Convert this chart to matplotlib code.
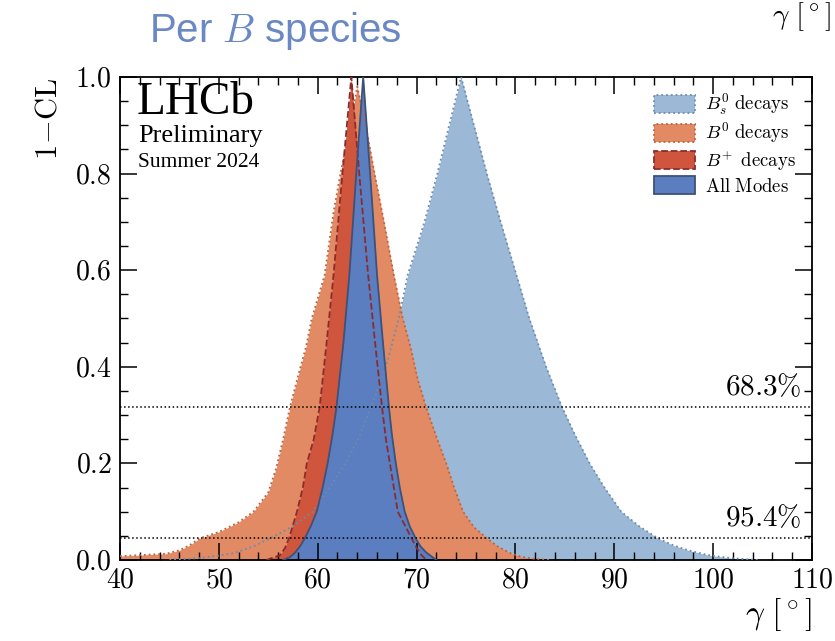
import numpy as np
import matplotlib as mpl
mpl.use('Agg')
import matplotlib.pyplot as plt
from matplotlib.patches import Patch
from matplotlib.ticker import MultipleLocator, FixedLocator

plt.rcParams['mathtext.fontset'] = 'cm'
plt.rcParams['font.family'] = 'serif'
plt.rcParams['font.serif'] = ['Liberation Serif', 'DejaVu Serif']

# 1-CL profiles (x in degrees, y = 1-CL)
bs_x = [45.0, 48.0, 50.0, 51.5, 53.5, 55.2, 57.5, 59.5, 61.2, 62.8, 64.2, 65.4, 66.9, 68.2,
        69.1, 70.8, 72.1, 73.3, 74.5,
        75.8, 77.1, 78.5, 80.1, 81.4, 83.1, 84.7, 86.0, 87.5, 89.0, 90.7, 92.5, 94.4, 96.0,
        97.5, 99.5, 101.7, 104.5]
bs_y = [0.0, 0.004, 0.009, 0.014, 0.028, 0.045, 0.07, 0.1, 0.15, 0.2, 0.255, 0.317, 0.4, 0.5,
        0.59, 0.7, 0.8, 0.9, 1.0,
        0.9, 0.8, 0.7, 0.59, 0.5, 0.4, 0.317, 0.26, 0.2, 0.15, 0.1, 0.07, 0.045, 0.03,
        0.02, 0.01, 0.004, 0.0]

b0_x = [40.0, 42.0, 44.7, 46.0, 47.0, 48.1, 50.0, 52.0, 53.5, 55.0, 55.8, 56.5, 57.2, 58.0,
        58.8, 59.4, 60.7, 61.6, 62.3, 63.2, 64.0,
        64.9, 65.75, 66.7, 67.7, 68.6, 69.4, 70.1, 70.95, 72.0, 73.0, 73.8, 74.7, 75.8,
        77.1, 78.2, 79.5, 80.5, 82.0, 83.5]
b0_y = [0.008, 0.01, 0.013, 0.02, 0.03, 0.045, 0.058, 0.078, 0.1, 0.14, 0.19, 0.25, 0.317, 0.38,
        0.44, 0.5, 0.59, 0.72, 0.8, 0.89, 0.98,
        0.895, 0.8, 0.7, 0.59, 0.5, 0.44, 0.375, 0.317, 0.255, 0.2, 0.15, 0.1, 0.068,
        0.045, 0.028, 0.014, 0.007, 0.002, 0.0]

bp_x = [54.8, 56.2, 56.7, 57.1, 57.9, 58.5, 58.9, 59.6, 60.2, 60.9, 61.6, 62.5, 63.4,
        64.2, 65.1, 65.8, 66.5, 66.9, 67.3, 67.7, 68.1, 69.5, 70.0, 70.5, 71.0]
bp_y = [0.0, 0.01, 0.025, 0.045, 0.1, 0.15, 0.2, 0.25, 0.317, 0.45, 0.59, 0.8, 1.0,
        0.8, 0.59, 0.45, 0.317, 0.25, 0.2, 0.15, 0.1, 0.045, 0.025, 0.01, 0.0]

all_x = [56.5, 57.2, 57.7, 58.2, 58.7, 59.3, 59.9, 60.5, 61.0, 61.5, 61.9, 62.6, 63.2, 63.9, 64.6,
         65.3, 66.0, 66.6, 67.2, 67.5, 67.9, 68.3, 68.8, 69.3, 69.9, 70.4, 71.0, 72.0]
all_y = [0.0, 0.006, 0.015, 0.028, 0.045, 0.07, 0.1, 0.15, 0.2, 0.26, 0.317, 0.45, 0.59, 0.8, 1.0,
         0.8, 0.59, 0.45, 0.317, 0.26, 0.2, 0.15, 0.1, 0.07, 0.045, 0.028, 0.015, 0.0]

cl_levels = [0.317, 0.0455]
cl_labels = [r'$68.3\%$', r'$95.4\%$']

x_ticks = [40, 50, 60, 70, 80, 90, 100, 110]
y_ticks = [0.0, 0.2, 0.4, 0.6, 0.8, 1.0]

series = [
    (bs_x, bs_y, '#9bb8d6', '#6c8bb0', ':', r'$B_s^0\ \mathrm{decays}$'),
    (b0_x, b0_y, '#e28a63', '#c0603c', ':', r'$B^0\ \mathrm{decays}$'),
    (bp_x, bp_y, '#cf553c', '#8c2b2e', '--', r'$B^{\!+}\ \mathrm{decays}$'),
    (all_x, all_y, '#5a7ec0', '#3d5279', '-', r'$\mathrm{All\ Modes}$'),
]

fig = plt.figure(figsize=(8.35, 6.41), dpi=100)
ax = fig.add_axes([0.1437, 0.1264, 0.8288, 0.7535])

for xs, ys, fc, ec, ls, lab in series:
    ax.fill_between(xs, ys, 0, color=fc, lw=0, zorder=1)
handles = []
for xs, ys, fc, ec, ls, lab in series:
    ax.plot(xs, ys, color=ec, ls=ls, lw=1.3, zorder=3)
    handles.append(Patch(facecolor=fc, edgecolor=ec, linestyle=ls, lw=1.3, label=lab))

for lev, lab in zip(cl_levels, cl_labels):
    ax.axhline(lev, color='black', ls=':', lw=1.1, zorder=4)
    ax.text(108.9, lev + 0.012, lab, ha='right', va='bottom', fontsize=21, zorder=5)

ax.set_xlim(40, 110)
ax.set_ylim(0, 1.0)
ax.xaxis.set_major_locator(FixedLocator(x_ticks))
ax.yaxis.set_major_locator(FixedLocator(y_ticks))
ax.xaxis.set_minor_locator(MultipleLocator(2))
ax.yaxis.set_minor_locator(MultipleLocator(0.05))
ax.set_xticklabels([rf'${v}$' for v in x_ticks])
ax.set_yticklabels([rf'${v:.1f}$' for v in y_ticks])
ax.tick_params(which='both', direction='in', top=True, right=True, labelsize=20, pad=6)
ax.tick_params(which='major', length=12, width=1.1)
ax.tick_params(which='minor', length=6, width=1.0)
for sp in ax.spines.values():
    sp.set_linewidth(1.3)

ax.set_ylabel(r'$1\!-\!\mathrm{CL}$', fontsize=22, loc='top', labelpad=8)
ax.set_xlabel(r'$\gamma\ [^\circ]$', fontsize=24, loc='right', labelpad=2)

ax.text(0.024, 0.99, 'LHCb', transform=ax.transAxes, fontsize=34, va='top', ha='left')
ax.text(0.026, 0.9, 'Preliminary', transform=ax.transAxes, fontsize=19, va='top', ha='left')
ax.text(0.026, 0.843, 'Summer 2024', transform=ax.transAxes, fontsize=15.5, va='top', ha='left')

leg = ax.legend(handles=handles, loc='upper right', frameon=False, fontsize=13.5,
                handlelength=2.2, handleheight=1.1, labelspacing=0.18,
                borderaxespad=0.3, handletextpad=0.5, bbox_to_anchor=(0.995, 0.998))

fig.text(0.178, 0.952, r'Per $B$ species', color='#6a88c4', fontsize=29,
         family='Liberation Sans', ha='left', va='center')
fig.text(0.995, 0.999, r'$\gamma\ [^\circ]$', fontsize=21, ha='right', va='top')

fig.savefig('out.png', dpi=100)
